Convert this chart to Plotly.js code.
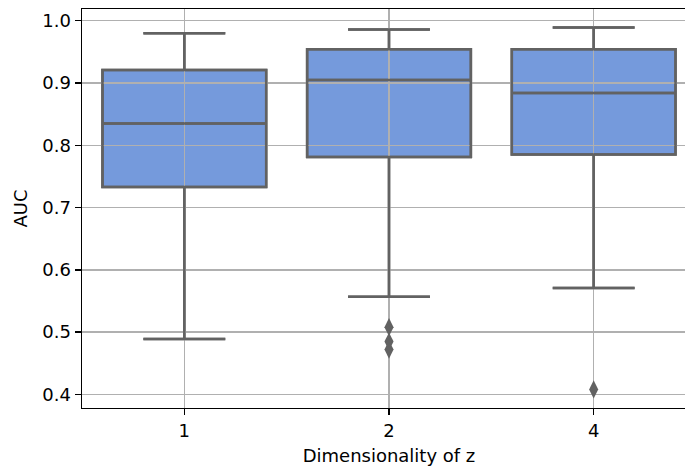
<!DOCTYPE html>
<html>
<head>
<meta charset="utf-8">
<script src="https://cdn.plot.ly/plotly-3.0.1.min.js"></script>
<style>
html,body{margin:0;padding:0;overflow:hidden;background:#fff;}
#chart{width:696px;height:466px;}
</style>
</head>
<body>
<div id="chart"></div>
<script>
// Data
const categories = ['1', '2', '4'];
const q1 = [0.733, 0.781, 0.785];
const median = [0.835, 0.905, 0.884];
const q3 = [0.921, 0.954, 0.954];
const lowerWhisker = [0.489, 0.557, 0.571];
const upperWhisker = [0.980, 0.986, 0.989];
const outlierX = ['2', '2', '2', '4'];
const outlierY = [0.508, 0.485, 0.472, 0.408];
const yTicks = [0.4, 0.5, 0.6, 0.7, 0.8, 0.9, 1.0];
const yTickLabels = ['0.4', '0.5', '0.6', '0.7', '0.8', '0.9', '1.0'];

const boxFill = 'rgb(117,154,220)';
const lineGray = 'rgb(98,98,98)';
const gridColor = 'rgb(176,176,176)';
const fontFamily = 'DejaVu Sans, sans-serif';
const fontSize = 18;
const yRange = [0.3782, 1.0188];
const xRange = [-0.5, 2.5];

const boxStats = {
  type: 'box',
  x: categories,
  q1: q1,
  median: median,
  q3: q3,
  lowerfence: lowerWhisker,
  upperfence: upperWhisker,
  boxpoints: false,
  width: 0.8,
  whiskerwidth: 0.5,
  hoverinfo: 'skip',
  showlegend: false
};

const traces = [
  // box bodies (fill) on the lower subplot
  Object.assign({}, boxStats, {
    xaxis: 'x', yaxis: 'y',
    fillcolor: boxFill,
    line: {color: lineGray, width: 2.5}
  }),
  // lines redrawn above the grid on the upper subplot
  Object.assign({}, boxStats, {
    xaxis: 'x2', yaxis: 'y2',
    fillcolor: 'rgba(0,0,0,0)',
    line: {color: lineGray, width: 2.5}
  }),
  {
    type: 'scatter',
    mode: 'markers',
    xaxis: 'x2', yaxis: 'y2',
    x: outlierX,
    y: outlierY,
    marker: {symbol: 'diamond-tall', size: 13, color: lineGray, line: {width: 0}},
    showlegend: false,
    hoverinfo: 'skip'
  }
];

const tickFont = {family: fontFamily, size: fontSize, color: '#000'};

const layout = {
  width: 696,
  height: 466,
  margin: {l: 82, r: 0, t: 9, b: 58},
  paper_bgcolor: '#fff',
  plot_bgcolor: 'rgba(0,0,0,0)',
  font: {family: fontFamily, size: fontSize, color: '#000'},
  showlegend: false,
  xaxis: {
    type: 'category',
    categoryorder: 'array',
    categoryarray: categories,
    range: xRange,
    anchor: 'y',
    showgrid: false,
    zeroline: false,
    showline: true,
    mirror: true,
    linecolor: '#000',
    linewidth: 1.4,
    ticks: 'outside',
    ticklen: 6,
    tickwidth: 1.4,
    tickcolor: '#000',
    tickfont: tickFont,
    title: {text: 'Dimensionality of z', font: tickFont, standoff: 9}
  },
  yaxis: {
    range: yRange,
    anchor: 'x',
    tickvals: yTicks,
    ticktext: yTickLabels,
    showgrid: false,
    zeroline: false,
    showline: true,
    mirror: true,
    linecolor: '#000',
    linewidth: 1.4,
    ticks: 'outside',
    ticklen: 6,
    tickwidth: 1.4,
    tickcolor: '#000',
    tickfont: tickFont,
    title: {text: 'AUC', font: tickFont, standoff: 10}
  },
  xaxis2: {
    type: 'category',
    categoryorder: 'array',
    categoryarray: categories,
    range: xRange,
    anchor: 'y2',
    showgrid: true,
    gridcolor: gridColor,
    gridwidth: 1.4,
    zeroline: false,
    showline: false,
    ticks: '',
    showticklabels: false
  },
  yaxis2: {
    range: yRange,
    anchor: 'x2',
    tickvals: yTicks,
    showgrid: true,
    gridcolor: gridColor,
    gridwidth: 1.4,
    zeroline: false,
    showline: false,
    ticks: '',
    showticklabels: false
  }
};

Plotly.newPlot('chart', traces, layout, {displayModeBar: false, staticPlot: true});
</script>
</body>
</html>
